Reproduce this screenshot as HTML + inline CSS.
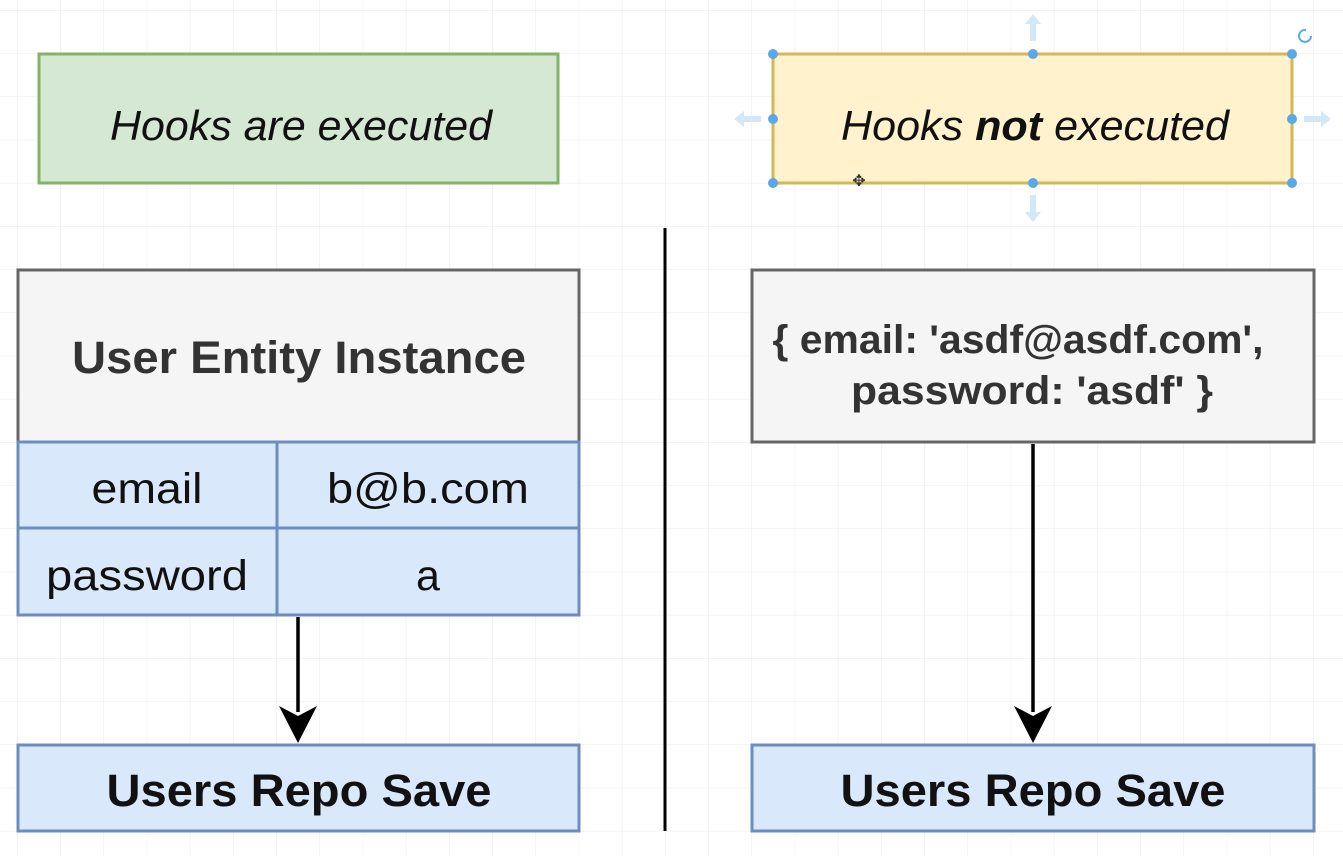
<!DOCTYPE html>
<html><head><meta charset="utf-8"><style>
html,body{margin:0;padding:0;background:#fff;width:1343px;height:856px;overflow:hidden}
svg{display:block}
text{font-family:"Liberation Sans",Arial,sans-serif}
</style></head><body>
<svg width="1343" height="856" viewBox="0 0 1343 856" xmlns="http://www.w3.org/2000/svg">
<defs>
<pattern id="g" x="17" y="10" width="43.2" height="43.2" patternUnits="userSpaceOnUse">
<path d="M0 0V43.2M0 0H43.2" stroke="#ececec" stroke-width="1.2" fill="none"/>
</pattern>
</defs>
<rect width="1343" height="856" fill="url(#g)"/>

<rect x="39" y="54" width="519" height="129" fill="#d5e8d4" stroke="#82b366" stroke-width="3"/>
<text x="301" y="140" font-size="42" font-style="italic" text-anchor="middle" fill="#111" textLength="382" lengthAdjust="spacingAndGlyphs">Hooks are executed</text>

<rect x="773" y="54" width="519" height="129" fill="#fff2cc" stroke="#d6b656" stroke-width="3"/>
<text x="1035" y="140" font-size="42" font-style="italic" text-anchor="middle" fill="#111" textLength="388" lengthAdjust="spacingAndGlyphs">Hooks <tspan font-weight="bold">not</tspan> executed</text>
<g fill="#5aa8e8">
<circle cx="773" cy="54" r="5"/><circle cx="1033" cy="54" r="5"/><circle cx="1292" cy="54" r="5"/>
<circle cx="773" cy="119" r="5"/><circle cx="1292" cy="119" r="5"/>
<circle cx="773" cy="183" r="5"/><circle cx="1033" cy="183" r="5"/><circle cx="1292" cy="183" r="5"/>
</g>
<g fill="#d2e8f8">
<path d="M1033 14l-8 10h5v17h6v-17h5z"/>
<path d="M1033 222l-8 -10h5v-17h6v17h5z"/>
<path d="M734 119l10 -8v5h17v6h-17v5z"/>
<path d="M1331 119l-10 -8v5h-17v6h17v5z"/>
</g>
<path d="M1311 36a6 6 0 1 1 -5 -6" stroke="#5aa8e8" stroke-width="2" fill="none"/>
<text x="859" y="186" font-size="16" text-anchor="middle" fill="#333">✥</text>

<line x1="665" y1="228" x2="665" y2="831" stroke="#000" stroke-width="3"/>

<rect x="18" y="270" width="561" height="172" fill="#f5f5f5" stroke="#666" stroke-width="3"/>
<text x="299" y="373" font-size="45" font-weight="bold" text-anchor="middle" fill="#333" textLength="454" lengthAdjust="spacingAndGlyphs">User Entity Instance</text>
<rect x="18" y="442" width="259" height="86" fill="#dae8fc" stroke="#6c8ebf" stroke-width="3"/>
<rect x="277" y="442" width="302" height="86" fill="#dae8fc" stroke="#6c8ebf" stroke-width="3"/>
<rect x="18" y="528" width="259" height="87" fill="#dae8fc" stroke="#6c8ebf" stroke-width="3"/>
<rect x="277" y="528" width="302" height="87" fill="#dae8fc" stroke="#6c8ebf" stroke-width="3"/>
<text x="147" y="503" font-size="43" text-anchor="middle" fill="#111" textLength="111" lengthAdjust="spacingAndGlyphs">email</text>
<text x="428" y="503" font-size="43" text-anchor="middle" fill="#111" textLength="202" lengthAdjust="spacingAndGlyphs">b@b.com</text>
<text x="147" y="590" font-size="43" text-anchor="middle" fill="#111" textLength="202" lengthAdjust="spacingAndGlyphs">password</text>
<text x="428" y="590" font-size="43" text-anchor="middle" fill="#111">a</text>

<line x1="298" y1="617" x2="298" y2="712" stroke="#000" stroke-width="3.5"/>
<path d="M279 706l19 37l19 -37l-19 10z" fill="#000"/>
<rect x="18" y="745" width="561" height="86" fill="#dae8fc" stroke="#6c8ebf" stroke-width="3"/>
<text x="299" y="806" font-size="45" font-weight="bold" text-anchor="middle" fill="#111" textLength="385" lengthAdjust="spacingAndGlyphs">Users Repo Save</text>

<rect x="752" y="270" width="562" height="172" fill="#f5f5f5" stroke="#666" stroke-width="3"/>
<text x="1018" y="353" font-size="40" font-weight="bold" text-anchor="middle" fill="#333" textLength="491" lengthAdjust="spacingAndGlyphs">{ email: 'asdf@asdf.com',</text>
<text x="1032" y="404" font-size="40" font-weight="bold" text-anchor="middle" fill="#333" textLength="362" lengthAdjust="spacingAndGlyphs">password: 'asdf' }</text>
<line x1="1033" y1="444" x2="1033" y2="712" stroke="#000" stroke-width="3.5"/>
<path d="M1014 706l19 37l19 -37l-19 10z" fill="#000"/>
<rect x="752" y="745" width="562" height="86" fill="#dae8fc" stroke="#6c8ebf" stroke-width="3"/>
<text x="1033" y="806" font-size="45" font-weight="bold" text-anchor="middle" fill="#111" textLength="385" lengthAdjust="spacingAndGlyphs">Users Repo Save</text>
</svg>
</body></html>
